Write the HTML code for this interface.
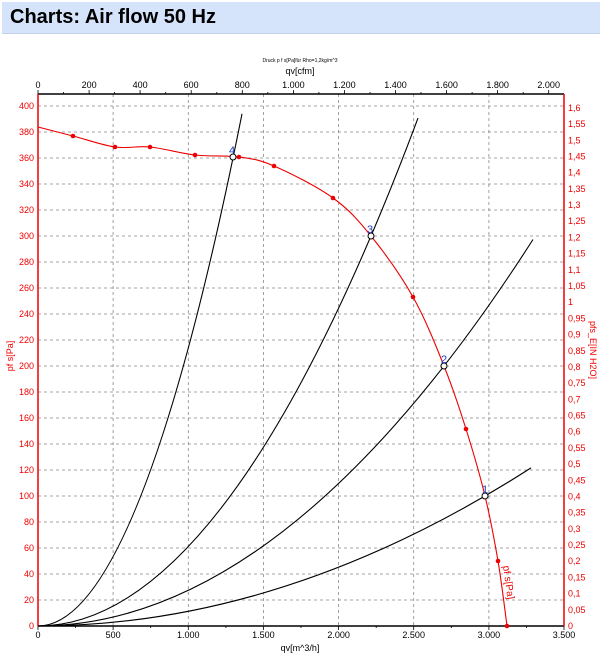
<!DOCTYPE html>
<html><head><meta charset="utf-8"><style>
body{margin:0;background:#fff;width:602px;height:656px;overflow:hidden;font-family:"Liberation Sans",sans-serif}
.hdr{position:absolute;left:2px;top:2px;width:598px;height:31px;background:#d6e4fb;border-bottom:1px solid #c4d3ec}
.hdr span{position:absolute;left:8px;top:4px;font-size:20px;font-weight:bold;color:#000}
svg{position:absolute;left:0;top:0}
</style></head><body>
<div class="hdr"><span>Charts: Air flow 50 Hz</span></div>
<svg width="602" height="656" font-family="Liberation Sans, sans-serif">
<g stroke="#888" stroke-width="0.8" stroke-dasharray="3,3">
<line x1="113.1" y1="94" x2="113.1" y2="626"/><line x1="188.3" y1="94" x2="188.3" y2="626"/><line x1="263.4" y1="94" x2="263.4" y2="626"/><line x1="338.6" y1="94" x2="338.6" y2="626"/><line x1="413.7" y1="94" x2="413.7" y2="626"/><line x1="488.9" y1="94" x2="488.9" y2="626"/>
<line x1="38" y1="600" x2="564" y2="600"/><line x1="38" y1="574" x2="564" y2="574"/><line x1="38" y1="548" x2="564" y2="548"/><line x1="38" y1="522" x2="564" y2="522"/><line x1="38" y1="496" x2="564" y2="496"/><line x1="38" y1="470" x2="564" y2="470"/><line x1="38" y1="444" x2="564" y2="444"/><line x1="38" y1="418" x2="564" y2="418"/><line x1="38" y1="392" x2="564" y2="392"/><line x1="38" y1="366" x2="564" y2="366"/><line x1="38" y1="340" x2="564" y2="340"/><line x1="38" y1="314" x2="564" y2="314"/><line x1="38" y1="288" x2="564" y2="288"/><line x1="38" y1="262" x2="564" y2="262"/><line x1="38" y1="236" x2="564" y2="236"/><line x1="38" y1="210" x2="564" y2="210"/><line x1="38" y1="184" x2="564" y2="184"/><line x1="38" y1="158" x2="564" y2="158"/><line x1="38" y1="132" x2="564" y2="132"/><line x1="38" y1="106" x2="564" y2="106"/>
</g>
<line x1="38" y1="94" x2="564" y2="94" stroke="#000" stroke-width="1.5"/>
<line x1="38" y1="626" x2="564" y2="626" stroke="#000" stroke-width="1.5"/>
<line x1="38" y1="94" x2="38" y2="626" stroke="#e00" stroke-width="1.5"/>
<line x1="564" y1="94" x2="564" y2="626" stroke="#e00" stroke-width="1.5"/>
<text x="300" y="62" font-size="5" text-anchor="middle">Druck p f s[Pa]für Rho=1,2kg/m^3</text>
<text x="300" y="74" font-size="9" text-anchor="middle">qv[cfm]</text>
<g font-size="9" text-anchor="middle">
<text x="38" y="88">0</text><text x="89.1" y="88">200</text><text x="140.1" y="88">400</text><text x="191.2" y="88">600</text><text x="242.3" y="88">800</text><text x="293.4" y="88">1.000</text><text x="344.4" y="88">1.200</text><text x="395.5" y="88">1.400</text><text x="446.6" y="88">1.600</text><text x="497.6" y="88">1.800</text><text x="548.7" y="88">2.000</text>
<text x="38" y="638">0</text><text x="113.1" y="638">500</text><text x="188.3" y="638">1.000</text><text x="263.4" y="638">1.500</text><text x="338.6" y="638">2.000</text><text x="413.7" y="638">2.500</text><text x="488.9" y="638">3.000</text><text x="564" y="638">3.500</text>
<text x="300" y="651">qv[m^3/h]</text>
</g>
<g stroke="#000" stroke-width="0.8">
<line x1="38" y1="94" x2="38" y2="90"/><line x1="63.5" y1="94" x2="63.5" y2="92"/><line x1="89.1" y1="94" x2="89.1" y2="90"/><line x1="114.6" y1="94" x2="114.6" y2="92"/><line x1="140.1" y1="94" x2="140.1" y2="90"/><line x1="165.7" y1="94" x2="165.7" y2="92"/><line x1="191.2" y1="94" x2="191.2" y2="90"/><line x1="216.8" y1="94" x2="216.8" y2="92"/><line x1="242.3" y1="94" x2="242.3" y2="90"/><line x1="267.8" y1="94" x2="267.8" y2="92"/><line x1="293.4" y1="94" x2="293.4" y2="90"/><line x1="318.9" y1="94" x2="318.9" y2="92"/><line x1="344.4" y1="94" x2="344.4" y2="90"/><line x1="370" y1="94" x2="370" y2="92"/><line x1="395.5" y1="94" x2="395.5" y2="90"/><line x1="421" y1="94" x2="421" y2="92"/><line x1="446.6" y1="94" x2="446.6" y2="90"/><line x1="472.1" y1="94" x2="472.1" y2="92"/><line x1="497.6" y1="94" x2="497.6" y2="90"/><line x1="523.2" y1="94" x2="523.2" y2="92"/><line x1="548.7" y1="94" x2="548.7" y2="90"/>
<line x1="38" y1="626" x2="38" y2="630"/><line x1="113.1" y1="626" x2="113.1" y2="630"/><line x1="188.3" y1="626" x2="188.3" y2="630"/><line x1="263.4" y1="626" x2="263.4" y2="630"/><line x1="338.6" y1="626" x2="338.6" y2="630"/><line x1="413.7" y1="626" x2="413.7" y2="630"/><line x1="488.9" y1="626" x2="488.9" y2="630"/><line x1="564" y1="626" x2="564" y2="630"/>
<line x1="75.6" y1="626" x2="75.6" y2="628"/><line x1="150.7" y1="626" x2="150.7" y2="628"/><line x1="225.9" y1="626" x2="225.9" y2="628"/><line x1="301" y1="626" x2="301" y2="628"/><line x1="376.2" y1="626" x2="376.2" y2="628"/><line x1="451.3" y1="626" x2="451.3" y2="628"/><line x1="526.5" y1="626" x2="526.5" y2="628"/>
</g>
<g font-size="9" fill="#e00" text-anchor="end">
<text x="34" y="629">0</text><text x="34" y="603">20</text><text x="34" y="577">40</text><text x="34" y="551">60</text><text x="34" y="525">80</text><text x="34" y="499">100</text><text x="34" y="473">120</text><text x="34" y="447">140</text><text x="34" y="421">160</text><text x="34" y="395">180</text><text x="34" y="369">200</text><text x="34" y="343">220</text><text x="34" y="317">240</text><text x="34" y="291">260</text><text x="34" y="265">280</text><text x="34" y="239">300</text><text x="34" y="213">320</text><text x="34" y="187">340</text><text x="34" y="161">360</text><text x="34" y="135">380</text><text x="34" y="109">400</text>
</g>
<text transform="translate(13,356) rotate(-90)" font-size="9" fill="#e00" text-anchor="middle">pf s[Pa]</text>
<g font-size="9" fill="#e00">
<text x="568" y="629">0</text><text x="568" y="612.8">0,05</text><text x="568" y="596.6">0,1</text><text x="568" y="580.4">0,15</text><text x="568" y="564.2">0,2</text><text x="568" y="548">0,25</text><text x="568" y="531.9">0,3</text><text x="568" y="515.7">0,35</text><text x="568" y="499.5">0,4</text><text x="568" y="483.3">0,45</text><text x="568" y="467.1">0,5</text><text x="568" y="450.9">0,55</text><text x="568" y="434.7">0,6</text><text x="568" y="418.5">0,65</text><text x="568" y="402.3">0,7</text><text x="568" y="386.2">0,75</text><text x="568" y="370">0,8</text><text x="568" y="353.8">0,85</text><text x="568" y="337.6">0,9</text><text x="568" y="321.4">0,95</text><text x="568" y="305.2">1</text><text x="568" y="289">1,05</text><text x="568" y="272.8">1,1</text><text x="568" y="256.6">1,15</text><text x="568" y="240.4">1,2</text><text x="568" y="224.2">1,25</text><text x="568" y="208.1">1,3</text><text x="568" y="191.9">1,35</text><text x="568" y="175.7">1,4</text><text x="568" y="159.5">1,45</text><text x="568" y="143.3">1,5</text><text x="568" y="127.1">1,55</text><text x="568" y="110.9">1,6</text>
</g>
<text transform="translate(590,350) rotate(90)" font-size="9" fill="#e00" text-anchor="middle">pfs_E[IN H2O]</text>
<g fill="none" stroke="#000" stroke-width="1.1">
<path d="M38,626 Q284.5,626 531,467.9"/>
<path d="M38,626 Q285.5,626 533,239.5"/>
<path d="M38,626 Q228,626 418,118.1"/>
<path d="M38,626 Q140,626 242,113.8"/>
</g>
<path fill="none" stroke="#e00" stroke-width="1.1" d="M38,127 C43.8,128.5 60.2,132.7 73,136 C85.8,139.3 102.2,145.2 115,147 C127.8,148.8 136.7,145.7 150,147 C163.3,148.3 180.2,153.3 195,155 C209.8,156.7 225.8,155.2 239,157 C252.2,158.8 258.3,159.2 274,166 C289.7,172.8 316.8,186.3 333,198 C349.2,209.7 357.7,219.5 371,236 C384.3,252.5 400.8,275.3 413,297 C425.2,318.7 435.2,344 444,366 C452.8,388 459.2,407.3 466,429 C472.8,450.7 479.7,474 485,496 C490.3,518 494.3,539.3 498,561 C501.7,582.7 505.5,615.2 507,626"/>
<g fill="#e00">
<circle cx="73" cy="136" r="2.3"/><circle cx="115" cy="147" r="2.3"/><circle cx="150" cy="147" r="2.3"/><circle cx="195" cy="155" r="2.3"/><circle cx="239" cy="157" r="2.3"/><circle cx="274" cy="166" r="2.3"/><circle cx="333" cy="198" r="2.3"/><circle cx="413" cy="297" r="2.3"/><circle cx="466" cy="429" r="2.3"/><circle cx="498" cy="561" r="2.3"/><circle cx="507" cy="626" r="2.3"/>
</g>
<g fill="#fff" stroke="#000" stroke-width="1">
<circle cx="485" cy="496" r="3"/><circle cx="444" cy="366" r="3"/><circle cx="371" cy="236" r="3"/><circle cx="233" cy="157" r="3"/>
</g>
<g font-size="11" fill="#1a3cc0">
<text x="482" y="493">1</text><text x="441" y="363">2</text><text x="367" y="233">3</text><text x="229" y="154">4</text>
</g>
<text transform="translate(503,566) rotate(82)" font-size="10" fill="#e00">pf s[Pa]</text>
</svg>
</body></html>
